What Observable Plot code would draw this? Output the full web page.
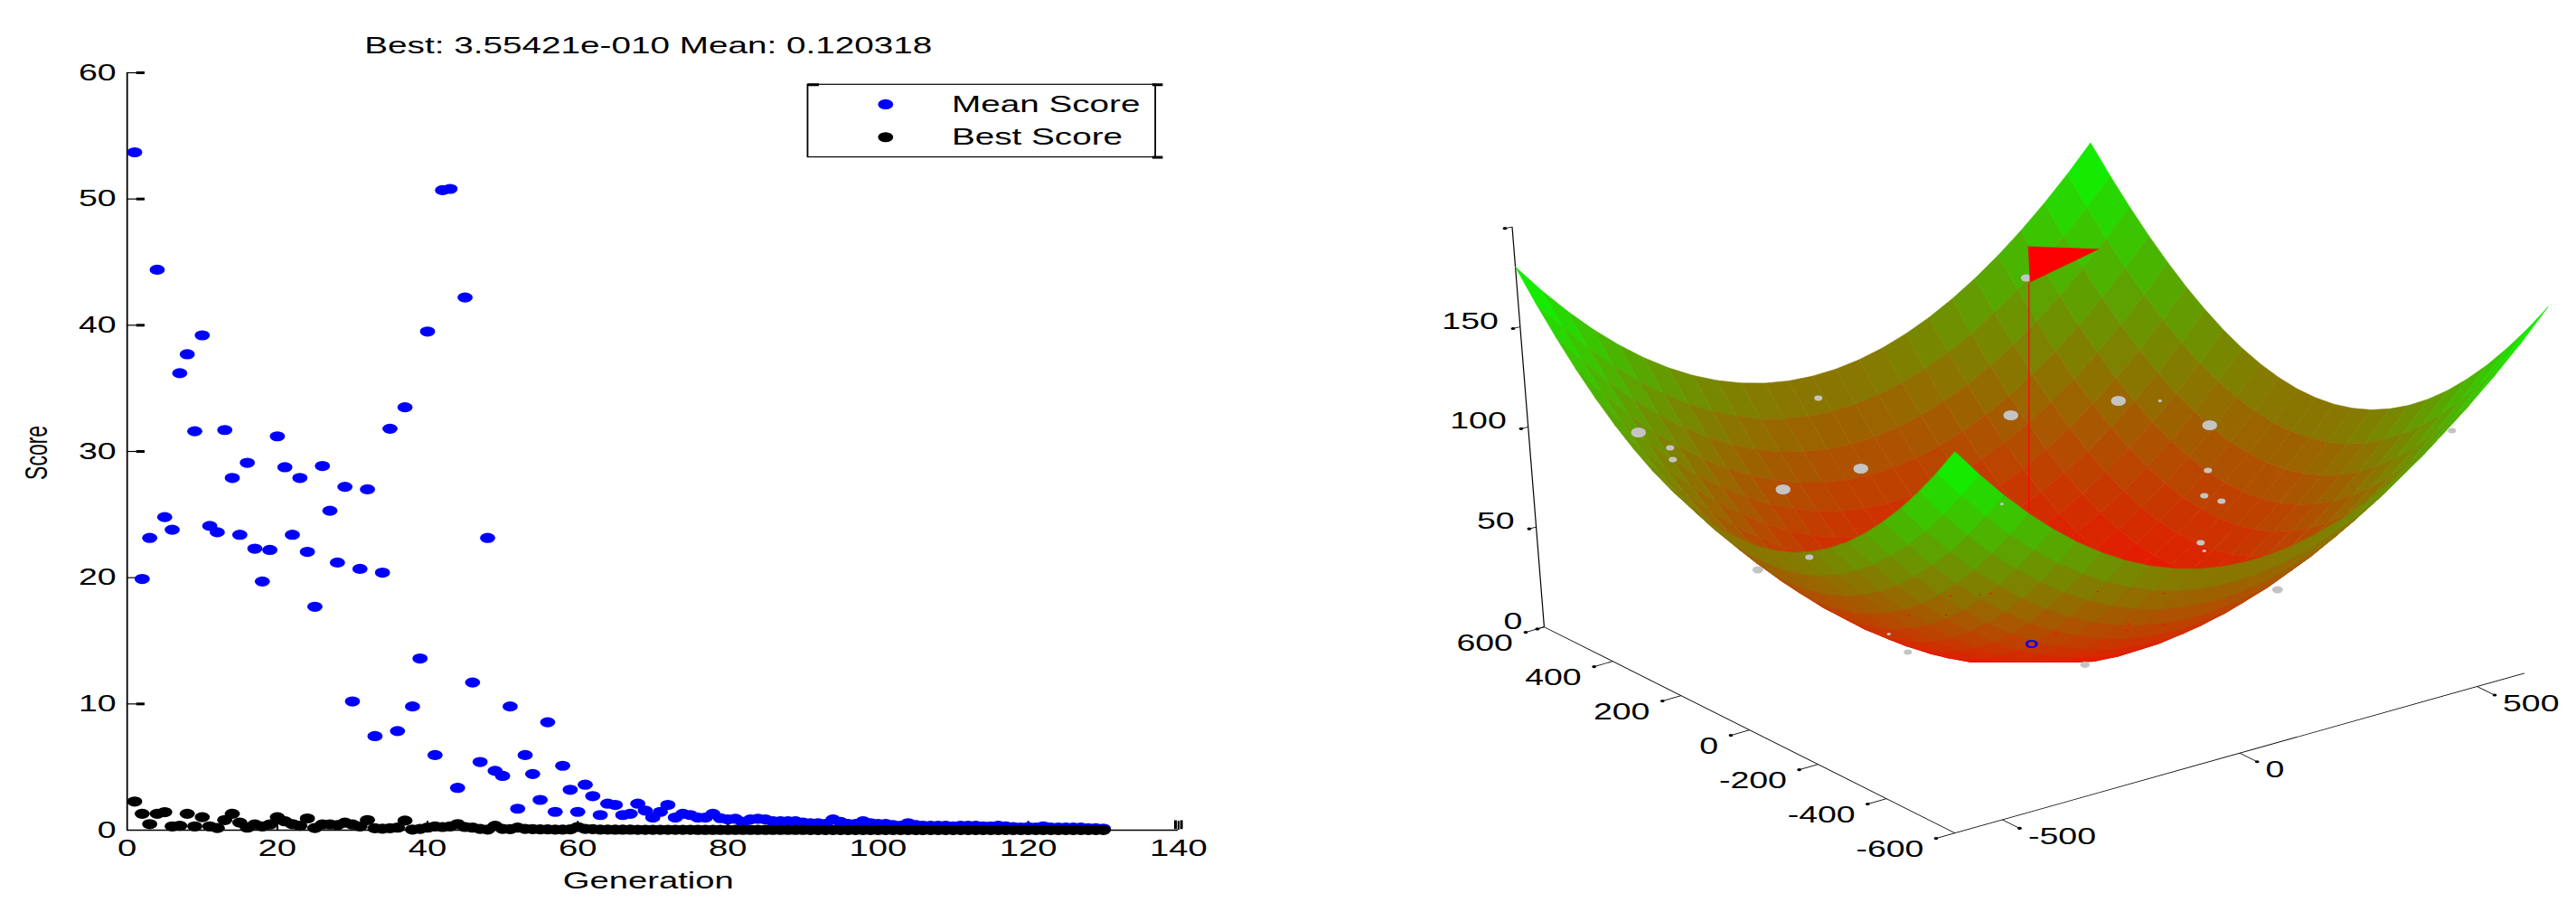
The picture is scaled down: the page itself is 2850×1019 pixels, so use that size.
<!DOCTYPE html>
<html><head><meta charset="utf-8">
<script src="https://cdn.jsdelivr.net/npm/d3@7"></script>
<script src="https://cdn.jsdelivr.net/npm/@observablehq/plot@0.6"></script>
<style>html,body{margin:0;padding:0;background:#fff;width:2850px;height:1019px;overflow:hidden}svg{position:absolute;top:0}</style>
</head><body><div id="root"></div>
<script>
const titleText = "Best: 3.55421e-010 Mean: 0.120318";
const xLabel = "Generation", yLabel = "Score";
const xTicks = [0,20,40,60,80,100,120,140];
const yTicks = [0,10,20,30,40,50,60];
const legendNames = ["Mean Score","Best Score"];
const meanScore = [53.7,19.9,23.15,44.4,24.8,23.8,36.2,37.7,31.6,39.2,24.1,23.6,31.7,27.9,23.4,29.1,22.3,19.7,22.2,31.2,28.75,23.4,27.9,22.05,17.7,28.85,25.3,21.2,27.2,10.2,20.7,27.0,7.45,20.4,31.8,7.85,33.5,9.8,13.6,39.5,5.95,50.7,50.8,3.35,42.2,11.7,5.4,23.15,4.7,4.3,9.8,1.7,5.95,4.45,2.4,8.55,1.45,5.1,3.2,1.45,3.6,2.7,1.2,2.1,2.0,1.2,1.3,2.1,1.55,1.0,1.45,2.0,1.0,1.3,1.2,1.0,1.0,1.3,.95,.85,.9,.65,.85,.9,.85,.7,.7,.7,.7,.6,.55,.55,.5,.85,.65,.5,.5,.7,.55,.5,.5,.4,.35,.55,.4,.35,.35,.35,.35,.3,.35,.35,.35,.3,.3,.35,.3,.25,.2,.25,.2,.3,.2,.2,.2,.2,.2,.15,.15,.12];
const bestScore = [2.27,1.3,.48,1.3,1.43,.3,.35,1.3,.3,1.03,.3,.17,.8,1.3,.6,.2,.45,.3,.45,1.03,.7,.48,.35,.93,.17,.45,.45,.4,.6,.45,.3,.8,.15,.12,.15,.2,.76,.05,.1,.2,.3,.25,.3,.48,.25,.2,.1,.05,.35,.1,.08,.2,.1,.08,.06,.06,.05,.05,.06,.25,.1,.08,.05,.05,.04,.04,.04,.03,.03,.03,.03,.03,.03,.03,.03,.02,.02,.02,.02,.02,.02,.02,.02,.02,.02,.02,.02,.02,.02,.02,.01,.01,.01,.01,.01,.01,.01,.01,.01,.01,.01,.01,.01,.01,.01,.01,.01,.01,.01,.01,.01,.01,.01,.01,.01,.01,.01,.01,.01,.01,.01,.01,.01,.01,.01,.01,.01,.01,.01,.01];

// surface heights read for one quadrant (|y| rows, |x| columns, steps of 50 from 0 to 600)
const surfaceStep = 50;
const surfaceQuadrant = [
[0,.6,2.5,5.6,10,15.6,22.5,30.6,40,50.6,62.5,75.6,90],
[.6,1.2,3.1,6.2,10.6,16.2,23.1,31.2,40.6,51.2,63.1,76.2,90.6],
[2.5,3.1,5,8.1,12.5,18.1,25,33.1,42.5,53.1,65,78.1,92.5],
[5.6,6.2,8.1,11.2,15.6,21.2,28.1,36.2,45.6,56.2,68.1,81.2,95.6],
[10,10.6,12.5,15.6,20,25.6,32.5,40.6,50,60.6,72.5,85.6,100],
[15.6,16.2,18.1,21.2,25.6,31.2,38.1,46.2,55.6,66.2,78.1,91.2,105.6],
[22.5,23.1,25,28.1,32.5,38.1,45,53.1,62.5,73.1,85,98.1,112.5],
[30.6,31.2,33.1,36.2,40.6,46.2,53.1,61.2,70.6,81.2,93.1,106.2,120.6],
[40,40.6,42.5,45.6,50,55.6,62.5,70.6,80,90.6,102.5,115.6,130],
[50.6,51.2,53.1,56.2,60.6,66.2,73.1,81.2,90.6,101.2,113.1,126.2,140.6],
[62.5,63.1,65,68.1,72.5,78.1,85,93.1,102.5,113.1,125,138.1,152.5],
[75.6,76.2,78.1,81.2,85.6,91.2,98.1,106.2,115.6,126.2,138.1,151.2,165.6],
[90,90.6,92.5,95.6,100,105.6,112.5,120.6,130,140.6,152.5,165.6,180]];
const surfaceTicksX = [-500,0,500];
const surfaceTicksY = [-600,-400,-200,0,200,400,600];
const surfaceTicksZ = [0,50,100,150];
const popU = [1812,1847,1850,2011,2058,1972,2224,2343,2389,2444,2442,2438,2457,2434,2438,2712,2001,1944,2519,2110,2306,2241,2214,2089];
const popV = [478,495,508,440,518,541,459,443,443,470,520,548,554,600,609,476,616,630,652,721,735,307,557,701];
const popR = [5.5,3,3,3,5.5,5.5,5.5,5.5,1.5,5.5,3,3,3,3,1.5,3,3,4,4,3,3.5,4,1.5,1.5];
const flagU = [2243,2322,2245];
const flagV = [272,275,312];
const poleU = [2244,2244];
const poleV = [312,564];
const bestU = [2247], bestV = [712];
const speckU = [2157,2190,2202,2320,2393,2111,2152,2354,2352,2393,2274,2327,2156];
const speckV = [659,658,656,654,656,680,680,690,697,691,701,713,716];

const font = "'Liberation Sans', Arial, sans-serif";
const gen = meanScore.map((_, i) => i + 1);

const yTickRows = yTicks.filter(d => d > 0);
const left = Plot.plot({
  width: 950, height: 1019,
  marginLeft: 93.3, marginRight: 81.3, marginTop: 80, marginBottom: 101,
  x: {domain: [0, 140]}, y: {domain: [0, 60]},
  style: {fontFamily: font, background: "#fff", color: "#000"},
  marks: [
    Plot.axisX(xTicks, {anchor: "bottom", tickSize: 0, tickPadding: 10, fontSize: 25.5, label: null}),
    Plot.axisY(yTicks, {anchor: "left", tickSize: 0, tickPadding: 8, fontSize: 25, label: null}),
    Plot.ruleX([0], {stroke: "#000", strokeWidth: 1.2}),
    Plot.ruleY([0], {stroke: "#000", strokeWidth: 1.6}),
    Plot.ruleY(yTickRows, {x1: 0, x2: 2.4, stroke: "#000", strokeWidth: 1.2}),
    Plot.ruleY(yTickRows, {x1: 1.3, x2: 2.4, stroke: "#000", strokeWidth: 3}),
    Plot.ruleX(xTicks.slice(1), {y1: 0, y2: 0.7, stroke: "#000", strokeWidth: 1.4}),
    Plot.ruleX([139.6, 140.4], {y1: 0.05, y2: 0.75, stroke: "#000", strokeWidth: 2}),
    Plot.dot(gen, {x: d => d, y: (d, i) => meanScore[i], r: 5.6, fill: "#0000ff"}),
    Plot.dot(gen, {x: d => d, y: (d, i) => bestScore[i], r: 5.6, fill: "#000"}),
    Plot.text([titleText], {x: 69.4, y: 62.1, text: d => d, fontSize: 25.8, textAnchor: "middle"}),
    Plot.text([xLabel], {x: 69.4, y: -4, text: d => d, fontSize: 25.5, textAnchor: "middle"}),
    Plot.text([yLabel], {x: -12, y: 29.9, text: d => d, fontSize: 23, rotate: -90, textAnchor: "middle"}),
    // legend
    Plot.rect([0], {x1: 90.7, x2: 137, y1: 53.3, y2: 59.05, fill: "#fff", stroke: "#000", strokeWidth: 1.2}),
    Plot.ruleY([53.3, 59.05], {x1: 136.6, x2: 138, stroke: "#000", strokeWidth: 3}),
    Plot.ruleY([59.05], {x1: 90.7, x2: 92.2, stroke: "#000", strokeWidth: 3}),
    Plot.dot(legendNames, {x: 101, y: (d, i) => [57.5, 54.9][i], r: 5.6, fill: (d, i) => ["#0000ff", "#000"][i]}),
    Plot.text(legendNames, {x: 109.8, y: (d, i) => [57.5, 54.9][i], text: d => d, fontSize: 25.8, textAnchor: "start"})
  ]
});

// view: corners of the box floor and of its plane at z = 180
const floorC = {L: [1707.7, 693.2], F: [2162.2, 921.2], R: [2792.2, 744.3], B: [2321.7, 517.4]};
const surfaceFloorC = {L: [1707.7, 693.2], F: [2162.2, 903], R: [2792.2, 744.3], B: [2321.7, 517.4]};
const topC = {L: [1675.8, 294.8], F: [2162.2, 499.2], R: [2818.5, 338.8], B: [2312.1, 157.5]};
const viewBottom = 732; // the surface is cut off flat here in the picture
function bil(c, s, t, k) {
  return (1 - s) * (1 - t) * c.F[k] + s * (1 - t) * c.R[k] + s * t * c.B[k] + (1 - s) * t * c.L[k];
}
function project(x, y, z, base = floorC) {
  const s = (x + 600) / 1200, t = (y + 600) / 1200;
  const fu = bil(base, s, t, 0), fv = bil(base, s, t, 1);
  const tu = bil(topC, s, t, 0), tv = bil(topC, s, t, 1);
  return [fu + (tu - fu) * z / 180, fv + (tv - fv) * z / 180];
}
const zAt = (i, j) => surfaceQuadrant[Math.abs(j)][Math.abs(i)];
const cells = [];
for (let i = -12; i < 12; i++) for (let j = -12; j < 12; j++) {
  const corners = [[i, j], [i + 1, j], [i + 1, j + 1], [i, j + 1]];
  const h = d3.mean(corners, c => zAt(c[0], c[1]));
  const depth = project((i + .5) * surfaceStep, (j + .5) * surfaceStep, 0)[1];
  cells.push({corners, h, depth});
}
cells.sort((a, b) => a.depth - b.depth);
const cellPts = cells.flatMap((c, order) => c.corners.map(([i, j]) => {
  const [u, v] = project(i * surfaceStep, j * surfaceStep, zAt(i, j), surfaceFloorC);
  return {u, v: Math.min(v, viewBottom), h: c.h, id: order};
}));
const seg = (a, b) => ({a: project(...a), b: project(...b)});
const axisLines = [seg([-600, 600, 0], [-600, -600, 0]), seg([-600, -600, 0], [600, -600, 0]), seg([-600, 600, 0], [-600, 600, 200])];
const tickSegs = [
  ...surfaceTicksY.map(y => seg([-600, y, 0], [-640, y, 0])),
  ...surfaceTicksX.map(x => seg([x, -600, 0], [x, -650, 0])),
  ...[0, 50, 100, 150, 200].map(z => seg([-600, 600, z], [-615, 600, z]))
];
const tickEnds = tickSegs.map(d => d.b);
const at = (x, y, z) => project(x, y, z);

const right = Plot.plot({
  width: 950, height: 1019, margin: 0,
  x: {domain: [1425, 2850], axis: null},
  y: {domain: [1019, 0], axis: null},
  r: {type: "identity"},
  color: {type: "linear", domain: [0, 180], range: ["#ff0000", "#00ff00"]},
  style: {fontFamily: font, background: "transparent", color: "#000"},
  marks: [
    Plot.link(axisLines, {x1: d => d.a[0], y1: d => d.a[1], x2: d => d.b[0], y2: d => d.b[1], stroke: "#000", strokeWidth: .8}),
    Plot.link(tickSegs, {x1: d => d.a[0], y1: d => d.a[1], x2: d => d.b[0], y2: d => d.b[1], stroke: "#000", strokeWidth: .8}),
    Plot.dot(tickEnds, {x: d => d[0], y: d => d[1], r: 1.6, fill: "#000"}),
    Plot.line(cellPts, {x: "u", y: "v", z: "id", fill: "h", stroke: "h", strokeWidth: .5, curve: "linear-closed"}),
    Plot.link([0], {x1: () => poleU[0], y1: () => poleV[0], x2: () => poleU[1], y2: () => poleV[1], stroke: "#ff0000", strokeWidth: .8}),
    Plot.dot(popU, {x: d => d, y: (d, i) => popV[i], r: (d, i) => popR[i], fill: "#c4c4c4"}),
    Plot.dot(speckU, {x: d => d, y: (d, i) => speckV[i], r: 0.8, fill: "#ff0000"}),
    Plot.dot(bestU, {x: d => d, y: (d, i) => bestV[i], r: 3.6, fill: "none", stroke: "#0000ff", strokeWidth: 2}),
    Plot.line(flagU.map((u, i) => ({u, v: flagV[i]})), {x: "u", y: "v", fill: "#ff0000", stroke: "none", curve: "linear-closed"}),
    Plot.text(surfaceTicksY, {x: y => at(-600, y, 0)[0], y: y => at(-600, y, 0)[1], text: d => String(d), fontSize: 25, textAnchor: "end", dx: -23, dy: 18}),
    Plot.text(surfaceTicksX, {x: x => at(x, -600, 0)[0], y: x => at(x, -600, 0)[1], text: d => String(d), fontSize: 25, textAnchor: "start", dx: 19, dy: 19}),
    Plot.text(surfaceTicksZ, {x: z => at(-600, 600, z)[0], y: z => at(-600, 600, z)[1], text: d => String(d), fontSize: 25, textAnchor: "end", dx: -16, dy: -6})
  ]
});

const root = document.getElementById("root");
[[left, 0], [right, 1425]].forEach(([svg, x]) => {
  svg.setAttribute("preserveAspectRatio", "none");
  svg.style.cssText += `;position:absolute;left:${x}px;top:0;width:1425px;height:1019px;max-width:none;overflow:visible`;
  root.appendChild(svg);
});
</script></body></html>
